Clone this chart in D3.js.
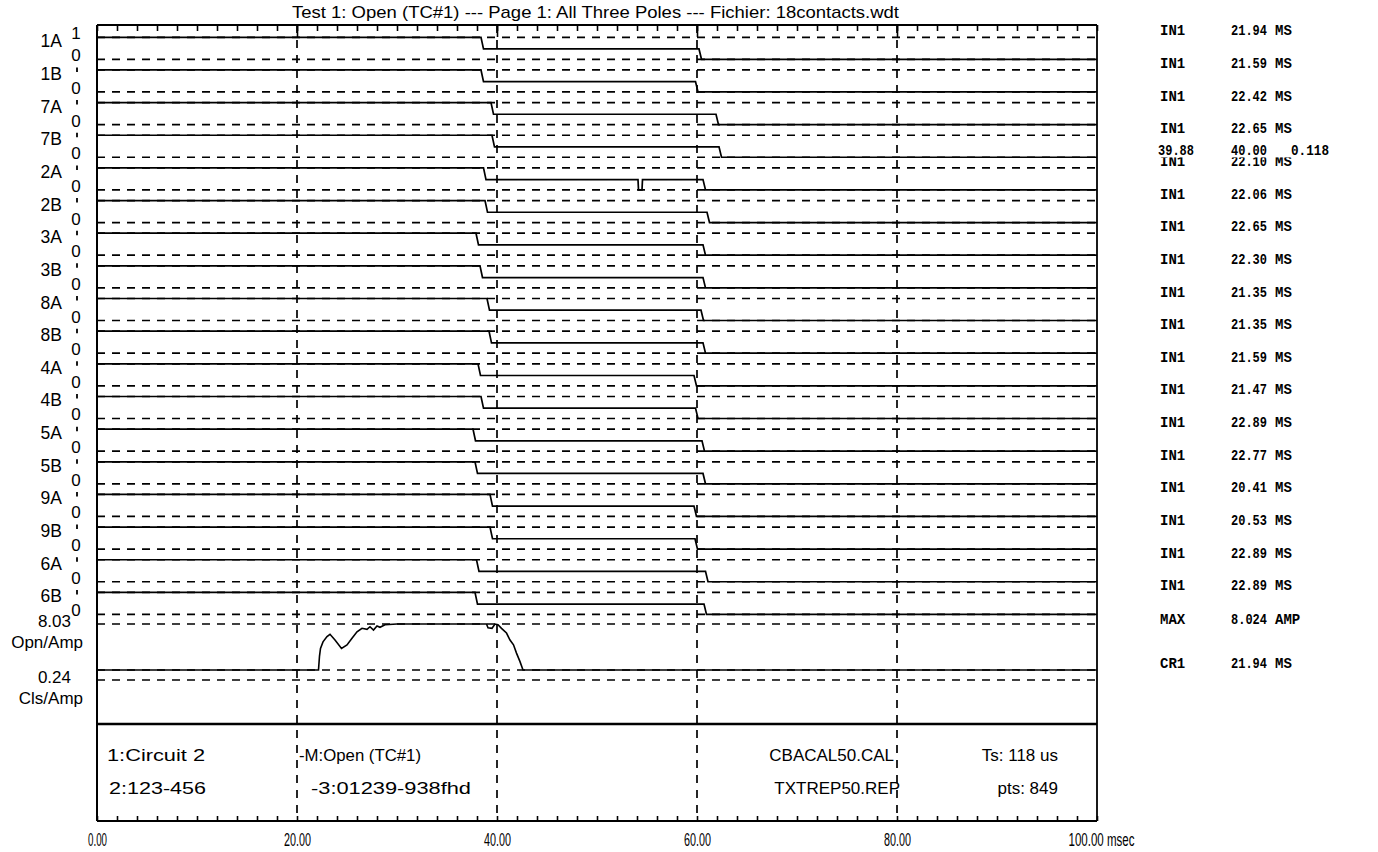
<!DOCTYPE html>
<html><head><meta charset="utf-8">
<script src="https://cdn.jsdelivr.net/npm/d3@7"></script>
<style>body{margin:0;background:#fff;}svg{display:block;}</style>
</head><body><svg id="chart" width="1378" height="852"></svg>
<script>
// ---------------- data ----------------
const channels   = ["1A","1B","7A","7B","2A","2B","3A","3B","8A","8B","4A","4B","5A","5B","9A","9B","6A","6B"];
const firstOpen  = [38.4,38.4,39.4,39.5,38.65,38.8,37.9,38.3,39.0,39.2,38.1,38.4,37.6,37.8,39.3,39.3,37.95,37.8];
const secondOpen = [60.2,59.85,61.9,62.2,60.6,61.0,60.6,60.6,60.4,60.6,59.7,59.85,60.5,60.6,59.7,59.8,60.85,60.7];
const midLevel = 0.47;
const glitchChannel = "2A", glitchStart = 54.1, glitchEnd = 54.5;
const in1Labels = ["IN1","IN1","IN1","IN1","IN1","IN1","IN1","IN1","IN1","IN1","IN1","IN1","IN1","IN1","IN1","IN1","IN1","IN1"];
const in1Values = ["21.94","21.59","22.42","22.65","22.10","22.06","22.65","22.30","21.35","21.35","21.59","21.47","22.89","22.77","20.41","20.53","22.89","22.89"];
const in1Unit = "MS";
const currentT = [0,22.15,22.25,22.35,22.6,23.0,23.3,23.8,24.45,25.0,25.5,26.0,26.5,27.0,27.3,27.65,28.0,28.3,28.8,30.0,38.95,39.1,39.5,39.8,40.1,40.45,40.95,41.3,41.65,41.95,42.3,42.6,100];
const currentA = [0.24,0.24,2.6,3.9,5.0,5.9,6.28,5.32,3.9,4.47,5.6,6.7,7.3,7.13,7.57,7.0,7.69,7.47,7.91,8.02,8.02,7.4,7.3,8.02,7.9,7.3,6.5,5.32,4.5,3.1,1.66,0.24,0.24];
const ampMax = 8.03, ampMin = 0.24;
const majorTicks = [0,20,40,60,80,100];
const majorLabels = ["0.00","20.00","40.00","60.00","80.00","100.00 msec"];
const gridTicks = [20,40,60,80];
const title = "Test 1: Open (TC#1) --- Page 1: All Three Poles --- Fichier: 18contacts.wdt";
const cursorReadout = ["39.88","40.00","0.118"];
const maxRow = ["MAX","8.024","AMP"];
const cr1Row = ["CR1","21.94","MS"];
const infoLeft = ["1:Circuit 2","2:123-456"];
const infoMid = ["-M:Open (TC#1)","-3:01239-938fhd"];
const infoFiles = ["CBACAL50.CAL","TXTREP50.REP"];
const infoRight = ["Ts: 118 us","pts: 849"];

(function(){
const svg = d3.select("#chart");
const SANS = "'Liberation Sans', Arial, sans-serif";
const MONO = "'Liberation Mono', 'DejaVu Sans Mono', monospace";
const x = d3.scaleLinear().domain([0,100]).range([97,1097]);
const chanY = d3.scaleLinear().domain([0,17]).range([37.3,592.4]);   // "1" level of each channel
const lvl = d3.scaleLinear().domain([0,1]).range([22,0]);
const ampY = d3.scaleLinear().domain([ampMin,ampMax]).range([670,624]);
const topY = 25, infoTop = 724, axisY = 821;
const minorTicks = d3.range(0,101,2);

function txt(s, px, py, o={}) {
  const t = svg.append("text").attr("x",px).attr("y",py).text(s)
    .attr("font-family", o.family||SANS).attr("font-size", o.size||18)
    .attr("text-anchor", o.anchor||"start").attr("fill","#000");
  if (o.weight) t.attr("font-weight", o.weight);
  if (o.ls) t.attr("letter-spacing", o.ls);
  if (o.w) t.attr("textLength", o.w).attr("lengthAdjust","spacingAndGlyphs");
  return t;
}

const dash = "8,7";
const refG = svg.append("g").attr("stroke","#000").attr("stroke-width",1.7).attr("stroke-dasharray",dash);
channels.forEach((c,i)=>{
  [1,0].forEach(v=>{
    refG.append("line").attr("x1",x(0)).attr("x2",x(100))
      .attr("y1",chanY(i)+lvl(v)).attr("y2",chanY(i)+lvl(v));
  });
});
[ampY(ampMax), ampY(ampMin), ampY(ampMin)+10].forEach(yy=>{
  refG.append("line").attr("x1",x(0)).attr("x2",x(100)).attr("y1",yy).attr("y2",yy);
});
gridTicks.forEach(t=>{
  svg.append("line").attr("x1",x(t)).attr("x2",x(t)).attr("y1",topY).attr("y2",axisY)
    .attr("stroke","#000").attr("stroke-width",1.7).attr("stroke-dasharray",dash);
});

const topMinor = d3.axisBottom(x).tickValues(minorTicks).tickSize(6).tickFormat("");
const topMajor = d3.axisBottom(x).tickValues(gridTicks).tickSize(12).tickFormat("");
const botMinor = d3.axisTop(x).tickValues(minorTicks).tickSize(5).tickFormat("");
[svg.append("g").attr("transform",`translate(0,${topY})`).call(topMinor),
 svg.append("g").attr("transform",`translate(0,${topY})`).call(topMajor),
 svg.append("g").attr("transform",`translate(0,${axisY})`).call(botMinor)].forEach(g=>{
  g.select(".domain").remove();
  g.selectAll("line").attr("stroke","#000").attr("stroke-width",1.6);
});
const lab = d3.axisBottom(x).tickValues(majorTicks).tickSize(0).tickPadding(0)
  .tickFormat((d,i)=>majorLabels[i]);
const labG = svg.append("g").attr("transform",`translate(0,${axisY})`).call(lab);
labG.select(".domain").remove();
labG.selectAll("text").attr("font-family",SANS).attr("font-size",18).attr("fill","#000")
  .attr("dy",null).attr("y",25)
  .attr("textLength",(d,i)=> i===5 ? 66 : (i===0 ? 19 : 27)).attr("lengthAdjust","spacingAndGlyphs")
  .attr("text-anchor",(d,i)=> i===5 ? "start" : "middle")
  .attr("x",(d,i)=> i===5 ? -29 : 0);

const fr = svg.append("g").attr("stroke","#000").attr("fill","none");
fr.append("line").attr("x1",x(0)).attr("x2",x(100)).attr("y1",topY).attr("y2",topY).attr("stroke-width",2);
fr.append("line").attr("x1",x(0)).attr("x2",x(0)).attr("y1",topY).attr("y2",axisY).attr("stroke-width",2);
fr.append("line").attr("x1",x(100)).attr("x2",x(100)).attr("y1",topY).attr("y2",axisY).attr("stroke-width",1.8);
fr.append("line").attr("x1",x(0)).attr("x2",x(100)).attr("y1",infoTop).attr("y2",infoTop).attr("stroke-width",2.4);
fr.append("line").attr("x1",x(0)).attr("x2",x(100)).attr("y1",axisY).attr("y2",axisY).attr("stroke-width",2.2);

const ramp = 0.25;
const line = d3.line().x(d=>x(d[0])).y(d=>d[1]);
channels.forEach((c,i)=>{
  const y0 = chanY(i);
  const Y = v=>y0+lvl(v);
  let pts = [[0,Y(1)],[firstOpen[i],Y(1)],[firstOpen[i]+ramp,Y(midLevel)]];
  if (c===glitchChannel) {
    pts.push([glitchStart,Y(midLevel)],[glitchStart+0.05,Y(0)],[glitchEnd,Y(0)],[glitchEnd+0.05,Y(midLevel)]);
  }
  pts.push([secondOpen[i],Y(midLevel)],[secondOpen[i]+ramp,Y(0)],[100,Y(0)]);
  svg.append("path").attr("d",line(pts)).attr("fill","none").attr("stroke","#000").attr("stroke-width",1.7);
});
const cur = d3.line().x((d,i)=>x(currentT[i])).y((d,i)=>ampY(currentA[i]));
svg.append("path").attr("d",cur(currentT)).attr("fill","none").attr("stroke","#000").attr("stroke-width",1.6);

txt(title, 292, 18, {w:607, size:17});

// left labels
channels.forEach((c,i)=>{
  const y1 = chanY(i);
  txt(c, 62, y1+10, {anchor:"end", size:17.5});
  if (i===0) txt("1", 76, y1+1.5, {anchor:"middle", size:17});
  else svg.append("line").attr("x1",77).attr("x2",77).attr("y1",y1-2.5).attr("y2",y1+2)
         .attr("stroke","#000").attr("stroke-width",1.8);
  txt("0", 76, y1+lvl(0)+2, {anchor:"middle", size:17});
});
txt(ampMax.toFixed(2), 71, ampY(ampMax)+2.5, {anchor:"end", size:17});
txt("Opn/Amp", 83, 648, {anchor:"end", size:17});
txt(ampMin.toFixed(2), 71, ampY(ampMin)+12.5, {anchor:"end", size:17});
txt("Cls/Amp", 83, 704, {anchor:"end", size:17});

// right panel
const mono = {family:MONO, size:14, weight:"bold"};
const col = [1160, 1231, 1275];
const colW = [null, 36, null];
function row(fields, yy){
  fields.forEach((f,k)=>txt(f, col[k], yy, Object.assign({}, mono, colW[k] ? {w:colW[k]} : {})));
}
channels.forEach((c,i)=>{
  row([in1Labels[i], in1Values[i], in1Unit], chanY(i)-7+5);
});
const ry4 = chanY(4)-7;
svg.append("rect").attr("x",1150).attr("y",ry4-18).attr("width",228).attr("height",14.5).attr("fill","#fff");
txt(cursorReadout[0], 1158, ry4-6, Object.assign({}, mono, {w:36}));
txt(cursorReadout[1], 1231, ry4-6, Object.assign({}, mono, {w:36}));
txt(cursorReadout[2], 1291, ry4-6, Object.assign({}, mono, {w:38}));
row(maxRow, 624);
row(cr1Row, 667.5);

// info box
txt(infoLeft[0], 107, 761, {w:98, size:17});
txt(infoLeft[1], 109, 794, {w:97, size:17});
txt(infoMid[0], 299, 761, {w:122, size:17});
txt(infoMid[1], 311, 794, {w:160, size:17});
txt(infoFiles[0], 894, 761, {anchor:"end", size:17});
txt(infoFiles[1], 900, 794, {anchor:"end", size:17});
txt(infoRight[0], 1058, 761, {anchor:"end", size:17});
txt(infoRight[1], 1058, 794, {anchor:"end", size:17});
})();
</script></body></html>
